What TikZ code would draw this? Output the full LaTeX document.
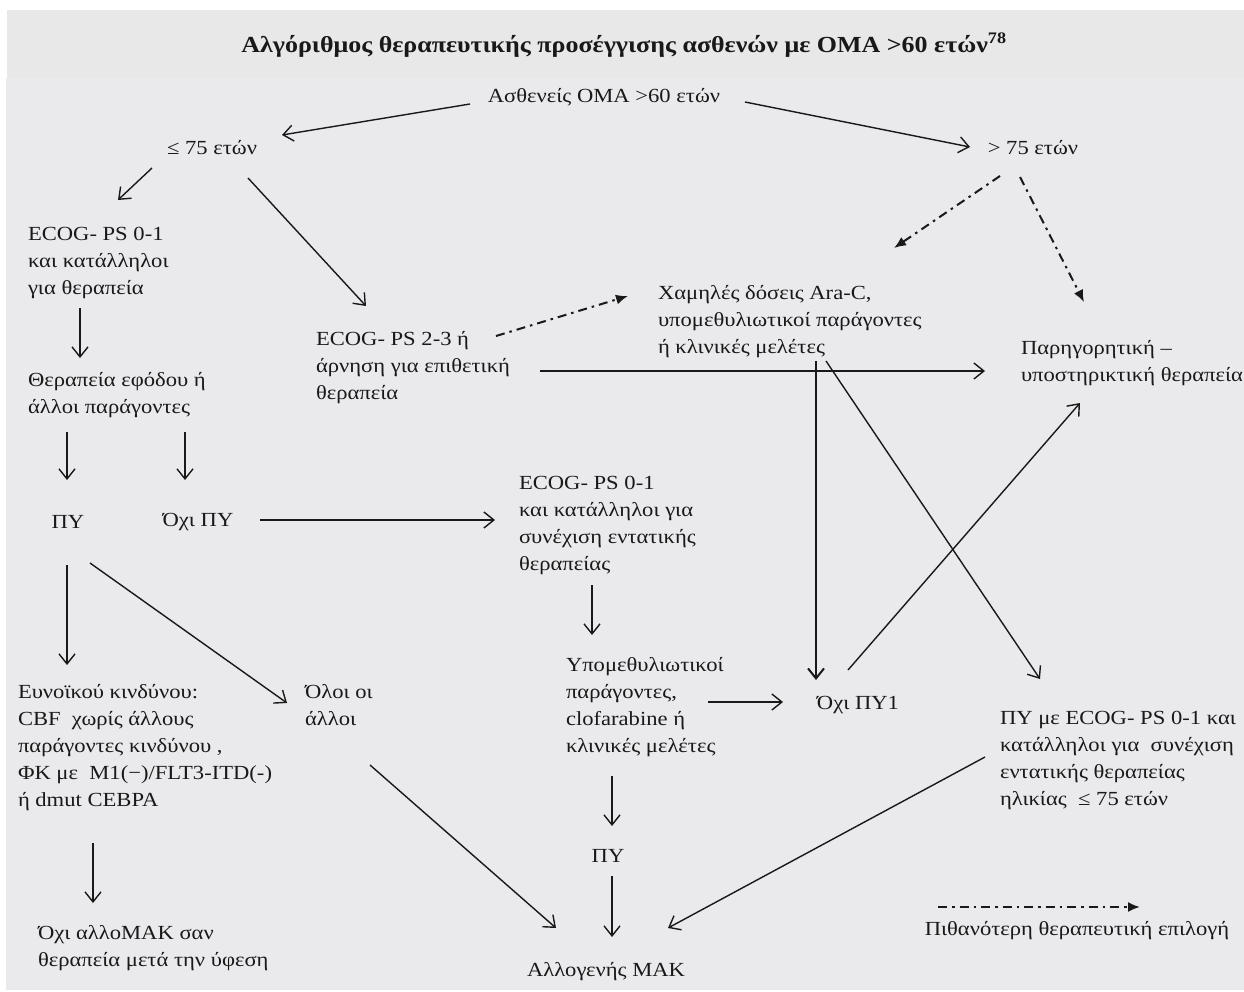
\documentclass[tikz,border=0pt]{standalone}
\usepackage{fontspec}
\setmainfont[FakeStretch=1.13]{Liberation Serif}
\usetikzlibrary{arrows.meta,calc}
\definecolor{bgtop}{RGB}{232,232,232}
\definecolor{bgmain}{RGB}{234,234,236}
\definecolor{ink}{RGB}{25,25,25}
\begin{document}
\begin{tikzpicture}[x=1pt,y=-1pt,
  txt/.style={inner sep=0pt, align=left, font=\fontsize{20}{27}\selectfont, text=ink},
  mtxt/.style={txt, anchor=north west, outer xsep=0pt, outer ysep=5pt},
  arr/.style={draw=ink, line width=1.4pt, -{Straight Barb[length=10pt,width=16pt]}},
  thick arr/.style={arr, line width=2pt},
  dda/.style={draw=ink, line width=2pt, dash pattern=on 9pt off 5pt on 2.5pt off 5pt, -{Latex[length=12pt,width=10pt]}}]
\useasboundingbox (0,0) rectangle (1244,992);
\fill[white] (0,0) rectangle (1244,992);
\fill[bgtop] (7,10) rectangle (1244,78);
\fill[bgmain] (6,78) rectangle (1244,990);

% nodes
\node[txt, font=\bfseries\fontsize{23}{27}\selectfont] (title) at (624,45) {Αλγόριθμος θεραπευτικής προσέγγισης ασθενών με ΟΜΑ >60 ετών\textsuperscript{78}};
\node[txt] (root) at (604,97) {Ασθενείς ΟΜΑ >60 ετών};
\node[txt] (le) at (212,148) {≤ 75 ετών};
\node[txt] (gt) at (1033,148) {> 75 ετών};
\node[mtxt] (e01) at (28,222) {ECOG- PS 0-1\\και κατάλληλοι\\για θεραπεία};
\node[mtxt] (e23) at (316,326) {ECOG- PS 2-3 ή\\άρνηση για επιθετική\\θεραπεία};
\node[mtxt] (low) at (658,280) {Χαμηλές δόσεις Ara-C,\\υπομεθυλιωτικοί παράγοντες\\ή κλινικές μελέτες};
\node[mtxt] (pal) at (1021,335) {Παρηγορητική –\\υποστηρικτική θεραπεία};
\node[mtxt] (ind) at (28,367) {Θεραπεία εφόδου ή\\άλλοι παράγοντες};
\node[txt] (py) at (68,522) {ΠΥ};
\node[txt] (nopy) at (198,522) {Όχι ΠΥ};
\node[mtxt] (e01b) at (519,471) {ECOG- PS 0-1\\και κατάλληλοι για\\συνέχιση εντατικής\\θεραπείας};
\node[mtxt] (fav) at (18,679) {Ευνοϊκού κινδύνου:\\CBF\ \ χωρίς άλλους\\παράγοντες κινδύνου ,\\ΦΚ με\ \ M1(−)/FLT3-ITD(-)\\ή dmut CEBPA};
\node[mtxt] (oth) at (305,679) {Όλοι οι\\άλλοι};
\node[mtxt] (hypo) at (566,652) {Υπομεθυλιωτικοί\\παράγοντες,\\clofarabine ή\\κλινικές μελέτες};
\node[txt] (nopy1) at (858,705) {Όχι ΠΥ1};
\node[mtxt] (pye) at (1000,706) {ΠΥ με ECOG- PS 0-1 και\\κατάλληλοι για\ \ συνέχιση\\εντατικής θεραπείας\\ηλικίας\ \ ≤ 75 ετών};
\node[txt] (py2) at (608,856) {ΠΥ};
\node[mtxt] (noallo) at (38,920) {Όχι αλλοΜΑΚ σαν\\θεραπεία μετά την ύφεση};
\node[txt] (allo) at (606,972) {Αλλογενής ΜΑΚ};
\node[txt] (leg) at (1077,931) {Πιθανότερη θεραπευτική επιλογή};

% connectors
\draw[arr] ([shift={(-134,7)}]root.center) -- ([shift={(70,-13)}]le.center);
\draw[arr] ([shift={(141,5)}]root.center) -- ([shift={(-63,-1)}]gt.center);
\draw[arr] ([shift={(-60,20)}]le.center) -- ([shift={(90,-22)}]e01.north west);
\draw[arr] ([shift={(36,30)}]le.center) -- ([shift={(50,-20)}]e23.north west);
\draw[dda] ([shift={(-33,28)}]gt.center) -- ([shift={(236,-32)}]low.north west);
\draw[dda] ([shift={(-13,29)}]gt.center) -- ([shift={(63,-33)}]pal.north west);
\draw[arr] ([shift={(52,86)}]e01.north west) -- ([shift={(52,-9)}]ind.north west);
\draw[dda] ([shift={(180,10)}]e23.north west) -- ([shift={(-30,16)}]low.north west);
\draw[arr] ([shift={(224,45)}]e23.north west) -- ([shift={(-36,36)}]pal.north west);
\draw[thick arr] ([shift={(158,81)}]low.north west) -- ([shift={(-42,-25)}]nopy1.center);
\draw[arr] ([shift={(168,81)}]low.north west) -- ([shift={(40,-27)}]pye.north west);
\draw[arr] ([shift={(-10,-35)}]nopy1.center) -- ([shift={(59,68)}]pal.north west);
\draw[arr] ([shift={(39,65)}]ind.north west) -- ([shift={(-1,-42)}]py.center);
\draw[arr] ([shift={(157,65)}]ind.north west) -- ([shift={(-13,-42)}]nopy.center);
\draw[arr] ([shift={(62,-2)}]nopy.center) -- ([shift={(-24,49)}]e01b.north west);
\draw[arr] ([shift={(-1,43)}]py.center) -- ([shift={(49,-14)}]fav.north west);
\draw[arr] ([shift={(22,41)}]py.center) -- ([shift={(-18,24)}]oth.north west);
\draw[arr] ([shift={(73,114)}]e01b.north west) -- ([shift={(26,-17)}]hypo.north west);
\draw[arr] ([shift={(142,50)}]hypo.north west) -- ([shift={(-75,-3)}]nopy1.center);
\draw[arr] ([shift={(46,124)}]hypo.north west) -- ([shift={(4,-30)}]py2.center);
\draw[arr] ([shift={(4,20)}]py2.center) -- ([shift={(6,-35)}]allo.center);
\draw[arr] ([shift={(65,86)}]oth.north west) -- ([shift={(-50,-44)}]allo.center);
\draw[arr] ([shift={(-15,51)}]pye.north west) -- ([shift={(62,-44)}]allo.center);
\draw[arr] ([shift={(75,164)}]fav.north west) -- ([shift={(55,-17)}]noallo.north west);
\coordinate (legend start) at ([shift={(-139,-24)}]leg.center);
\draw[dda] (legend start) -- ([shift={(63,-24)}]leg.center);
\end{tikzpicture}
\end{document}
